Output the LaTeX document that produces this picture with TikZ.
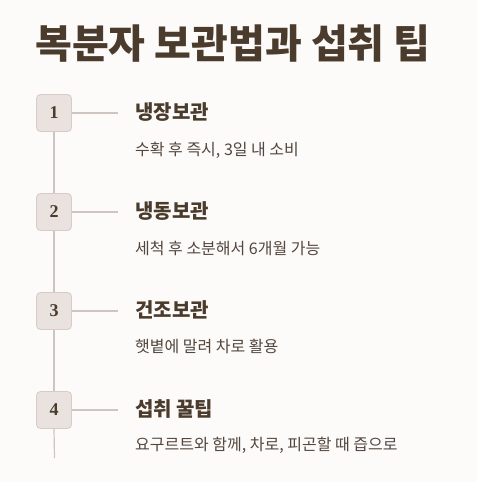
\documentclass[tikz,border=0pt]{standalone}
\usepackage{fontspec}
\newfontfamily\kr{Noto Sans CJK KR}
\newfontfamily\numfont{Liberation Serif}
\definecolor{bg}{HTML}{FDFBF9}
\definecolor{ink}{HTML}{4A3B2C}
\definecolor{sub}{HTML}{52463E}
\definecolor{boxfill}{HTML}{EAE2DF}
\definecolor{boxline}{HTML}{D6CBC7}
\definecolor{conn}{HTML}{CEC4C0}
\begin{document}
\begin{tikzpicture}[x=1pt,y=-1pt,
  numbox/.style={draw=boxline, fill=boxfill, rounded corners=4pt, line width=0.8pt,
    minimum width=35pt, minimum height=37pt, inner sep=0pt,
    font=\numfont\bfseries\fontsize{18}{20}\selectfont, text=ink},
  ttl/.style={anchor=west, inner sep=0pt, font=\kr\bfseries\fontsize{20}{24}\selectfont, text=ink},
  desc/.style={anchor=west, inner sep=0pt, font=\kr\fontsize{16}{19}\selectfont, text=sub},
  link/.style={draw=conn, line width=1.2pt}]
\fill[bg] (0,0) rectangle (477,482);
\useasboundingbox (0,0) rectangle (477,482);
\node[anchor=west, inner sep=0pt, font=\kr\bfseries\fontsize{40}{46}\selectfont, text=ink] (title) at (35,44) {복분자 보관법과 섭취 팁};
\coordinate (lineend) at (54.5,458);
\node[numbox] (b1) at (54,113) {1};
\node[numbox] (b2) at (54,212) {2};
\node[numbox] (b3) at (54,311) {3};
\node[numbox] (b4) at (54,410) {4};
\draw[link] (b1.south) -- (b2.north);
\draw[link] (b2.south) -- (b3.north);
\draw[link] (b3.south) -- (b4.north);
\draw[link] (b4.south) -- (lineend);
\coordinate (h1) at (118,113);
\coordinate (h2) at (118,212);
\coordinate (h3) at (118,311);
\coordinate (h4) at (118,410);
\draw[link] (b1.east) -- (h1);
\draw[link] (b2.east) -- (h2);
\draw[link] (b3.east) -- (h3);
\draw[link] (b4.east) -- (h4);
\node[ttl] (t1) at (135,112) {냉장보관};
\node[desc] (d1) at (135,150) {수확 후 즉시, 3일 내 소비};
\node[ttl] (t2) at (135,211) {냉동보관};
\node[desc] (d2) at (135,248) {세척 후 소분해서 6개월 가능};
\node[ttl] (t3) at (135,310) {건조보관};
\node[desc] (d3) at (135,346) {햇볕에 말려 차로 활용};
\node[ttl] (t4) at (135,409) {섭취 꿀팁};
\node[desc] (d4) at (135,445) {요구르트와 함께, 차로, 피곤할 때 즙으로};
\end{tikzpicture}
\end{document}
